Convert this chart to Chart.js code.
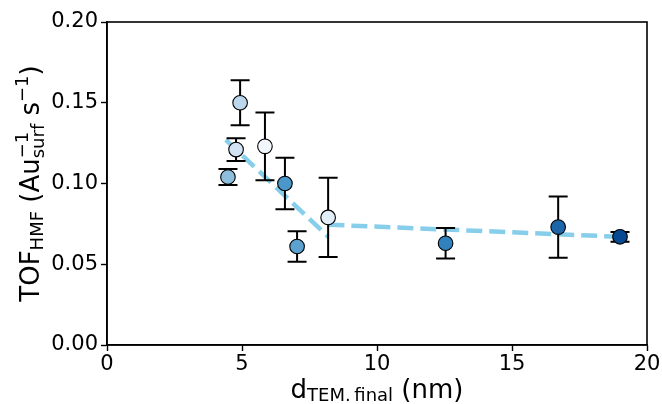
<!DOCTYPE html>
<html lang="en">
	<head>
		<meta charset="UTF-8" />
		<title>TOF vs particle size</title>
		<script src="https://cdn.jsdelivr.net/npm/chart.js@4.4.1/dist/chart.umd.min.js"></script>
		<style>
			body { margin: 0; background: #fff; }
		</style>
	</head>
	<body>
		<canvas id="chart" width="662" height="404"></canvas>
		<script>
			// particle size (nm) and turnover frequency with error
			const dSize = [4.48, 4.78, 4.93, 5.85, 6.59, 7.04, 8.19, 12.54, 16.71, 19.0];
			const tof = [0.104, 0.121, 0.150, 0.123, 0.100, 0.061, 0.079, 0.063, 0.073, 0.067];
			const tofErr = [0.005, 0.007, 0.014, 0.021, 0.016, 0.0095, 0.0245, 0.0095, 0.019, 0.003];
			const pointColors = ["#8dbfdd", "#d2e3f3", "#bcd6eb", "#f2f7fd", "#4b97c9", "#5ca2d0", "#e1edf8", "#3181bd", "#1c65a9", "#084a91"];

			// dashed guide lines
			const steepX = [4.4, 8.2];
			const steepY = [0.127, 0.067];
			const flatX = [8.2, 19.0];
			const flatY = [0.0745, 0.067];

			const xTicks = [0, 5, 10, 15, 20];
			const yTicks = [0, 0.05, 0.1, 0.15, 0.2];

			const FONT = "DejaVu Sans";

			const toPts = (xs, ys) => xs.map((x, i) => ({ x: x, y: ys[i] }));

			const errorBars = {
				id: "errorBars",
				beforeDatasetDraw(chart, args) {
					if (args.index !== 0) return;
					const ctx = chart.ctx;
					const xs = chart.scales.x;
					const ys = chart.scales.y;
					ctx.save();
					ctx.strokeStyle = "#000";
					ctx.lineWidth = 2;
					dSize.forEach((d, i) => {
						const px = xs.getPixelForValue(d);
						const top = ys.getPixelForValue(tof[i] + tofErr[i]);
						const bot = ys.getPixelForValue(tof[i] - tofErr[i]);
						ctx.beginPath();
						ctx.moveTo(px, top);
						ctx.lineTo(px, bot);
						ctx.moveTo(px - 9.5, top);
						ctx.lineTo(px + 9.5, top);
						ctx.moveTo(px - 9.5, bot);
						ctx.lineTo(px + 9.5, bot);
						ctx.stroke();
					});
					ctx.restore();
				},
			};

			// draw parts of a label with sub/superscripts, left to right
			function drawParts(ctx, parts, x, y) {
				let cx = x;
				parts.forEach((p) => {
					if (p.stack) {
						// superscript over subscript at the same spot
						const ws = p.stack.map((s) => {
							ctx.font = s.size + "px '" + FONT + "'";
							ctx.fillText(s.t, cx, y + s.dy);
							return ctx.measureText(s.t).width;
						});
						cx += Math.max(...ws);
						return;
					}
					ctx.font = p.size + "px '" + FONT + "'";
					ctx.fillText(p.t, cx, y + (p.dy || 0));
					cx += ctx.measureText(p.t).width;
				});
				return cx - x;
			}

			function measureParts(ctx, parts) {
				let w = 0;
				parts.forEach((p) => {
					if (p.stack) {
						const ws = p.stack.map((s) => {
							ctx.font = s.size + "px '" + FONT + "'";
							return ctx.measureText(s.t).width;
						});
						w += Math.max(...ws);
						return;
					}
					ctx.font = p.size + "px '" + FONT + "'";
					w += ctx.measureText(p.t).width;
				});
				return w;
			}

			const axisTitles = {
				id: "axisTitles",
				afterDraw(chart) {
					const ctx = chart.ctx;
					const area = chart.chartArea;
					ctx.save();
					// frame
					ctx.strokeStyle = "#000";
					ctx.lineWidth = 1.6;
					ctx.strokeRect(area.left, area.top, area.right - area.left, area.bottom - area.top);

					ctx.fillStyle = "#000";
					ctx.textBaseline = "alphabetic";
					ctx.textAlign = "left";

					const xParts = [
						{ t: "d", size: 26 },
						{ t: "TEM.\u2009final", size: 18, dy: 3 },
						{ t: " (nm)", size: 26 },
					];
					const xw = measureParts(ctx, xParts);
					drawParts(ctx, xParts, (area.left + area.right) / 2 - xw / 2, 398);

					const yParts = [
						{ t: "TOF", size: 26 },
						{ t: "HMF", size: 18, dy: 4 },
						{ t: " (Au", size: 26 },
						{ stack: [{ t: "\u22121", size: 18, dy: -11 }, { t: "surf", size: 18, dy: 5 }] },
						{ t: " s", size: 26 },
						{ t: "\u22121", size: 18, dy: -11 },
						{ t: ")", size: 26 },
					];
					const yw = measureParts(ctx, yParts);
					ctx.translate(39, (area.top + area.bottom) / 2);
					ctx.rotate(-Math.PI / 2);
					drawParts(ctx, yParts, -yw / 2, 0);
					ctx.restore();
				},
			};

			const tickFont = { family: FONT, size: 21 };

			new Chart(document.getElementById("chart"), {
				type: "scatter",
				data: {
					datasets: [
						{
							data: toPts(dSize, tof),
							backgroundColor: pointColors,
							borderColor: "#000",
							borderWidth: 1.1,
							pointRadius: 7.3,
						},
						{
							data: toPts(steepX, steepY),
							showLine: true,
							borderColor: "#87ceeb",
							borderWidth: 4.5,
							borderDash: [16, 7],
							pointRadius: 0,
						},
						{
							data: toPts(flatX, flatY),
							showLine: true,
							borderColor: "#87ceeb",
							borderWidth: 4.5,
							borderDash: [16, 7],
							pointRadius: 0,
						},
					],
				},
				options: {
					responsive: false,
					animation: false,
					layout: { padding: { left: 0, top: 22, right: 15, bottom: 0 } },
					plugins: {
						legend: { display: false },
						tooltip: { enabled: false },
					},
					scales: {
						x: {
							type: "linear",
							min: 0,
							max: 20,
							afterFit: (s) => { s.height = 59; },
							afterBuildTicks: (s) => { s.ticks = xTicks.map((v) => ({ value: v })); },
							ticks: { font: tickFont, color: "#000", padding: 1 },
							grid: { drawOnChartArea: false, color: "#000", tickLength: 6, tickWidth: 1.4 },
							border: { color: "#000", width: 1.6 },
						},
						y: {
							min: 0,
							max: 0.2,
							afterFit: (s) => { s.width = 107; },
							afterBuildTicks: (s) => { s.ticks = yTicks.map((v) => ({ value: v })); },
							ticks: {
								font: tickFont,
								color: "#000",
								padding: 3,
								callback: (v) => v.toFixed(2),
							},
							grid: { drawOnChartArea: false, color: "#000", tickLength: 6, tickWidth: 1.4 },
							border: { color: "#000", width: 1.6 },
						},
					},
				},
				plugins: [errorBars, axisTitles],
			});
		</script>
	</body>
</html>
